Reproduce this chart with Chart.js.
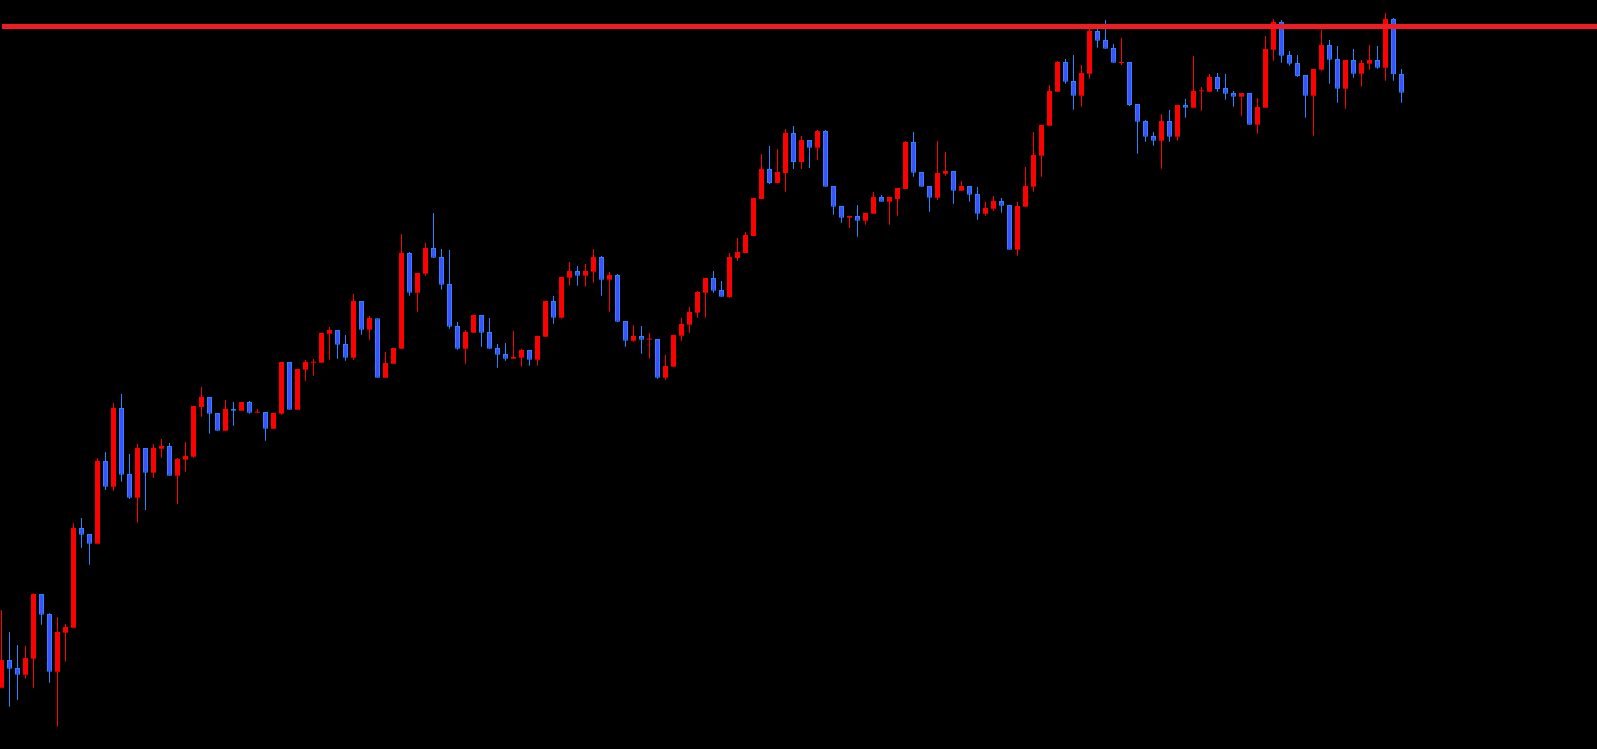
<!DOCTYPE html>
<html>
<head>
<meta charset="utf-8">
<title>Candles</title>
<script src="https://cdn.jsdelivr.net/npm/chart.js@4.4.1/dist/chart.umd.min.js"></script>
<style>
    html, body { margin: 0; padding: 0; background: #000; overflow: hidden; }
    #wrap { position: relative; width: 1597px; height: 749px; }
</style>
</head>
<body>
<div id="wrap"><canvas id="priceChart"></canvas></div>
<script>
// ============================ 数据 ============================
const opens = [
    61.3, 89, 81, 74.3, 90.3, 155, 135, 77.3, 116.3, 121.3,
    221, 215, 205.3, 288, 262.3, 341, 275, 251.3, 301, 276.3,
    300.3, 303, 273.3, 289.3, 292.3, 342, 352, 336, 318.3, 340,
    338.3, 347, 336.3, 337, 320.3, 335.3, 387, 339.3, 379.3, 386.3,
    386.3, 415.3, 419, 405, 391.3, 448, 419.3, 430.7, 371.3, 385.3,
    400.3, 496, 456.3, 475.3, 501, 492, 465, 423, 400.3, 416.3,
    434, 417, 401, 395, 390.3, 391.3, 399, 389.3, 412.3, 448,
    431.3, 471.3, 478, 473.3, 477.3, 492, 469.3, 474, 428, 408.3,
    413, 409.3, 410, 371.3, 382.3, 413.3, 424.3, 436.3, 456.3, 471,
    459, 452, 491, 496, 513, 550, 580, 566, 576, 616,
    587, 609, 601.3, 618, 563, 543, 531.3, 533, 528.3, 535.3,
    552, 547.3, 550, 560, 607, 577, 563, 551.3, 575.3, 578,
    558.3, 563, 555, 535.3, 540.3, 548, 544, 499.3, 542.3, 562.3,
    593.3, 623.3, 657.3, 687, 668, 653.3, 675.3, 718, 709, 701,
    686, 687, 645, 628, 613, 608.3, 628, 612.3, 644, 641.3,
    657.7, 657.3, 672, 661, 656, 652.3, 656, 624.3, 641.3, 699.3,
    727, 694, 686, 674, 653.3, 679.3, 704, 690, 660.3, 689,
    675.3, 685.3, 689, 681.3, 730, 675
];
const highs = [
    139, 117, 104, 103, 155.7, 155, 135.7, 132, 125, 225.7,
    231, 215, 290.7, 297, 346, 355, 295, 305, 301, 305,
    310, 306, 291, 307, 343, 362, 352, 336, 349, 347,
    347, 348, 340, 337, 336, 387, 387, 380, 389, 390,
    416, 422, 419, 414, 455, 448, 433, 430.7, 397, 401,
    515, 497, 476, 506, 536, 500, 499, 427, 419, 434,
    434, 431, 405, 406, 418, 400.3, 399, 413, 448, 453,
    472, 487, 483, 485, 500, 493, 477, 475, 428, 424,
    423, 416, 410, 394, 414, 431, 442, 458, 471, 478,
    468, 496, 511, 517, 551, 595, 603, 600, 620, 623,
    613, 609, 619, 619, 563, 543, 533, 544, 536, 557,
    554, 552, 561, 608, 617, 577, 563, 608, 597, 578,
    568, 563, 562, 547, 553, 551, 544, 547, 582, 617,
    624, 664, 688, 690, 694, 684, 722, 721, 729, 705,
    711, 687, 645, 629, 617, 635, 639, 644, 650, 693,
    662, 675, 676, 675, 658, 656, 656, 651, 713, 730,
    729, 698, 694, 674, 680, 719, 709, 703, 689, 700,
    689, 704, 703, 736, 731, 680
];
const lows = [
    61.3, 42.3, 49, 70.3, 61.3, 124.3, 66.3, 22.3, 87.3, 121.3,
    201.3, 184.3, 205.3, 259, 258, 267.3, 250, 226.3, 239, 271.3,
    291.3, 273.3, 245, 277.3, 291.3, 332.3, 315.3, 318.3, 318.3, 323.3,
    338.3, 335.3, 336.3, 308.3, 320.3, 334.3, 339.3, 339.3, 368.3, 373.3,
    386.3, 389.3, 390.3, 388.3, 389.3, 414.3, 409.3, 371.3, 371.3, 385.3,
    400.3, 453.3, 437.3, 473.3, 491.3, 459.3, 420.3, 399.3, 385.3, 416.3,
    402.3, 400.3, 381.3, 388.3, 390.3, 382.3, 383.3, 383.3, 412.3, 425.3,
    430.3, 463.3, 463.3, 462.3, 466.3, 453.3, 437.3, 427.3, 402.3, 407.3,
    395.3, 390.3, 370.3, 369.3, 382.3, 408.3, 416.3, 431.3, 431.3, 456.3,
    452.3, 451.3, 488, 496, 513, 550, 565, 566, 557.3, 580,
    580, 581, 589, 562.3, 534.3, 526.3, 521, 512.3, 524.3, 535.3,
    547.3, 524.3, 533.3, 560, 572.3, 562.3, 537.3, 549, 573.3, 545.3,
    558.3, 547.3, 529.3, 533.3, 538.3, 536.3, 499.3, 493.3, 542.3, 557.3,
    572.3, 623.3, 657.3, 665.3, 639.3, 642.3, 670.3, 701.3, 700.3, 686.3,
    684, 643, 595.3, 607.3, 603.3, 580.3, 607.3, 608.3, 631.3, 641.3,
    638.3, 657.3, 657.3, 649.3, 642.3, 633.3, 624.3, 615.3, 641.3, 688.3,
    686.3, 683.3, 672, 631.3, 613.3, 678.3, 665.3, 646.3, 640.3, 671.3,
    662.3, 679.3, 680.3, 668.3, 668.3, 646.3
];
const closes = [
    89, 80.3, 74.3, 91, 155, 134.3, 77.3, 117, 122, 221,
    214.3, 205.3, 288, 262.3, 341, 274.3, 251.3, 301, 276.3, 301,
    303, 273.3, 290, 293, 343, 352, 335.3, 318.3, 340, 338.3,
    347, 336.3, 337, 320.3, 336, 387, 339.3, 380, 387, 387.3,
    416, 419, 404.3, 391.3, 448, 419.3, 431, 371.3, 386, 401,
    496, 456.3, 476, 501, 491.3, 464.3, 422.3, 400.3, 417, 434,
    416.3, 400.3, 394.3, 390.3, 392, 399, 389.3, 413, 448, 431.3,
    472, 478, 473.3, 478, 492, 469.3, 474, 427.3, 408.3, 413,
    409.3, 410.3, 371.3, 383, 414, 425, 437, 457, 471, 458.3,
    452.3, 492, 497, 514, 551, 580, 566, 577, 616, 587,
    609, 601.3, 618, 562.3, 542.3, 531.3, 533, 528.3, 536, 552,
    547.3, 552, 561, 607, 576.3, 562.3, 551.3, 576, 578, 558.3,
    563, 554.3, 535.3, 541, 548, 543.3, 499.3, 543, 563, 594,
    624, 658, 687, 667.3, 653.3, 676, 718, 708.3, 700.3, 686.3,
    687, 644, 627.3, 612.3, 608.3, 628, 612.3, 644, 641.3, 658,
    658.3, 672, 660, 655.3, 652.3, 656, 624.3, 642, 700, 727,
    693.3, 685.3, 673, 653.3, 680, 704, 689.3, 660.3, 689, 675.3,
    686, 689, 681.3, 730, 674.7, 656.3
];
// 顶部阻力位
const levelPrice = 722.5;
const levelStart = 0.06;

// ============================ 样式 ============================
const UP_COLOR = '#ff0000';
const DOWN_FILL = '#4150ff';
const DOWN_EDGE = '#2685ff';
const LEVEL_COLOR = '#f01c24';

const X_MIN = -0.1875;
const X_MAX = 199.4375;

function renderCandles() {
    const ctx = document.getElementById('priceChart').getContext('2d');

    const isUp = opens.map((o, i) => closes[i] >= o);

    const bodyData = opens.map((o, i) => ({ x: i, y: [o, closes[i]] }));
    const wickData = lows.map((l, i) => ({ x: i, y: [l, highs[i]] }));

    new Chart(ctx, {
        type: 'bar',
        data: {
            datasets: [
                {
                    type: 'line',
                    data: [{ x: levelStart, y: levelPrice }, { x: X_MAX, y: levelPrice }],
                    borderColor: LEVEL_COLOR,
                    borderWidth: 5,
                    pointRadius: 0,
                    order: 0
                },
                {
                    data: bodyData,
                    backgroundColor: isUp.map(u => u ? UP_COLOR : DOWN_FILL),
                    borderColor: isUp.map(u => u ? UP_COLOR : DOWN_EDGE),
                    borderWidth: isUp.map(u => u ? 0 : 1),
                    borderSkipped: false,
                    barThickness: 5,
                    minBarLength: 1,
                    grouped: false,
                    inflateAmount: 0,
                    order: 1
                },
                {
                    data: wickData,
                    backgroundColor: isUp.map(u => u ? UP_COLOR : DOWN_EDGE),
                    borderWidth: 0,
                    barThickness: 1,
                    grouped: false,
                    inflateAmount: 0,
                    order: 2
                }
            ]
        },
        options: {
            responsive: true,
            maintainAspectRatio: false,
            devicePixelRatio: 1,
            animation: false,
            layout: { padding: 0 },
            plugins: {
                legend: { display: false },
                tooltip: { enabled: false }
            },
            scales: {
                x: {
                    type: 'linear',
                    min: X_MIN,
                    max: X_MAX,
                    offset: false,
                    display: false
                },
                y: {
                    type: 'linear',
                    min: 0,
                    max: 749,
                    display: false
                }
            }
        }
    });
}

renderCandles();
</script>
</body>
</html>
